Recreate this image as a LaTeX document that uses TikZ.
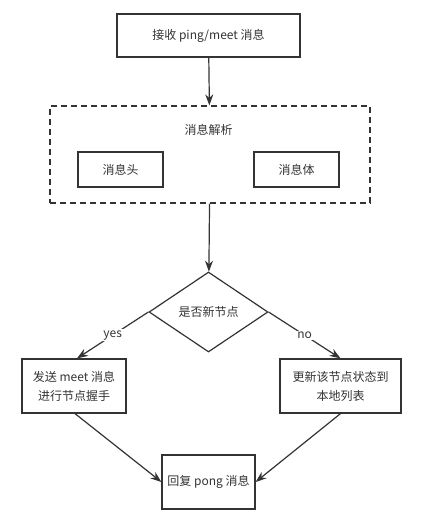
\documentclass[tikz,border=0pt]{standalone}
\usepackage{fontspec}
\newfontfamily\cjk{Noto Sans CJK SC}
\usetikzlibrary{shapes.geometric, arrows.meta}
\definecolor{linie}{HTML}{333333}

\tikzset{
	kasten/.style={draw=linie, line width=1.2pt, text=linie, font=\cjk\fontsize{12}{19}\selectfont, align=center, inner sep=0pt},
	pfeil/.style={draw=linie, line width=1.2pt, -{Stealth[length=11pt, width=8pt]}},
	beschriftung/.style={text=linie, font=\cjk\fontsize{12}{14}\selectfont, fill=white, inner sep=1pt}
}

\begin{document}
\begin{tikzpicture}[x=1pt, y=-1pt]
	\useasboundingbox (0,0) rectangle (427,526);
	
	% Zeichnet das Feld fuer den Empfang
	\node[kasten, minimum width=183pt, minimum height=43pt] (empfang) at (208.5,35.5) {接收 ping/meet 消息};
	
	% Zeichnet den gestrichelten Rahmen der Analyse
	\node[kasten, dash pattern=on 6pt off 4pt, minimum width=320pt, minimum height=97pt] (analyse) at (210,154.5) {};
	\node[kasten, draw=none] (analysetitel) at (208.5,130) {消息解析};
	
	% Zeichnet Kopf und Rumpf der Nachricht
	\node[kasten, minimum width=85pt, minimum height=35pt] (kopf) at (120.5,169.5) {消息头};
	\node[kasten, minimum width=85pt, minimum height=35pt] (rumpf) at (296.5,169.5) {消息体};
	
	% Zeichnet die Raute der Abfrage
	\node[kasten, diamond, minimum width=119pt, minimum height=80pt] (frage) at (208.5,312) {是否新节点};
	
	% Zeichnet die beiden Zweige
	\node[kasten, minimum width=104pt, minimum height=54pt] (ja) at (74,386) {发送 meet 消息\\进行节点握手};
	\node[kasten, minimum width=121pt, minimum height=54pt] (nein) at (340.5,386) {更新该节点状态到\\本地列表};
	
	% Zeichnet das Feld der Antwort
	\node[kasten, minimum width=93pt, minimum height=54pt] (antwort) at (208.5,482) {回复 pong 消息};
	
	% Zeichnet die Pfeile
	\draw[pfeil] (empfang) -- (analyse);
	\draw[pfeil] (analyse) -- (frage);
	\draw[pfeil] (frage.west) -- ([xshift=3pt]ja.north) node[midway, beschriftung] {yes};
	\draw[pfeil] (frage.east) -- (nein.north) node[midway, beschriftung] {no};
	\draw[pfeil] ([xshift=1pt]ja.south) -- (antwort.west);
	\draw[pfeil] (nein.south) -- (antwort.east);
	
\end{tikzpicture}
\end{document}
